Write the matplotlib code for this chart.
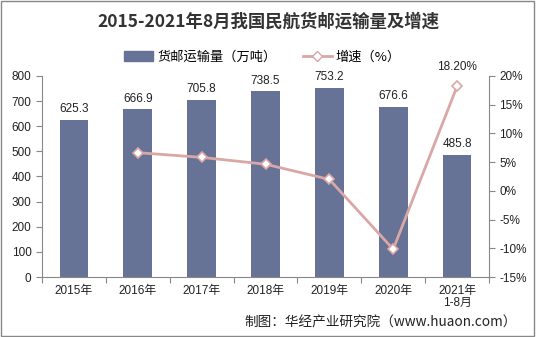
import matplotlib
matplotlib.use("Agg")
import matplotlib.pyplot as plt
from matplotlib.patches import Rectangle
from matplotlib.lines import Line2D

plt.rcParams['font.family'] = ['Liberation Sans', 'Noto Sans CJK SC', 'DejaVu Sans']

categories = ['2015年', '2016年', '2017年', '2018年', '2019年', '2020年', '2021年\n1-8月']
volume = [625.3, 666.9, 705.8, 738.5, 753.2, 676.6, 485.8]
growth = [None, 6.65, 5.83, 4.64, 1.99, -10.17, 18.20]
growth_labels = {6: '18.20%'}
left_ticks = [0, 100, 200, 300, 400, 500, 600, 700, 800]
right_ticks = [-15, -10, -5, 0, 5, 10, 15, 20]

bar_color = '#667396'
line_color = '#D9A7A5'
text_color = '#222222'

fig = plt.figure(figsize=(5.36, 3.37), dpi=100)
fig.patches.append(Rectangle((0.002, 0.003), 0.995, 0.994, transform=fig.transFigure,
                             fill=False, edgecolor='#888888', linewidth=1.0))

ax = fig.add_axes([42/536, 1-277/337, (489-42)/536, (277-76)/337])
x = list(range(len(categories)))
ax.bar(x, volume, width=0.45, color=bar_color, zorder=2)
for xi, v in zip(x, volume):
    ax.text(xi, v + 18, f'{v:.1f}', ha='center', va='bottom', fontsize=8.5, color=text_color)
ax.set_xlim(-0.5, len(categories) - 0.5)
ax.set_ylim(0, 800)
ax.set_yticks(left_ticks)
ax.tick_params(axis='y', labelsize=8.5, colors='#888888', labelcolor=text_color, length=4, direction='out')
ax.set_xticks([i + 0.5 for i in range(-1, len(categories))], minor=False)
ax.set_xticklabels([])
ax.set_xticks(x, minor=True)
ax.set_xticklabels(categories, minor=True, fontsize=8.5, color=text_color, linespacing=1.0)
ax.tick_params(axis='x', which='major', length=4, colors='#888888')
ax.tick_params(axis='x', which='minor', length=0, pad=6)
for s in ['top', 'right']:
    ax.spines[s].set_visible(False)
for s in ['left', 'bottom']:
    ax.spines[s].set_color('#888888')

ax2 = ax.twinx()
gx = [xi for xi, g in zip(x, growth) if g is not None]
gy = [g for g in growth if g is not None]
ax2.plot(gx, gy, color=line_color, linewidth=2, marker='D', markersize=5,
         markerfacecolor='white', markeredgecolor=line_color, markeredgewidth=1.2, zorder=3)
for i, lab in growth_labels.items():
    ax2.text(x[i], growth[i] + 2.3, lab, ha='center', va='bottom', fontsize=8.5, color=text_color)
ax2.set_ylim(-15, 20)
ax2.set_yticks(right_ticks)
ax2.set_yticklabels([f'{t}%' for t in right_ticks])
ax2.tick_params(axis='y', labelsize=8.5, colors='#888888', labelcolor=text_color, length=4, direction='out')
for s in ['top', 'left', 'bottom']:
    ax2.spines[s].set_visible(False)
ax2.spines['right'].set_color('#888888')

fig.text(0.5, 1-22/337, '2015-2021年8月我国民航货邮运输量及增速', ha='center', va='center',
         fontsize=12.5, fontweight='bold', color='#333333', family=['Noto Sans CJK SC', 'DejaVu Sans'])

handles = [Rectangle((0, 0), 1, 1, color=bar_color),
           Line2D([0], [0], color=line_color, linewidth=2, marker='D', markersize=5,
                  markerfacecolor='white', markeredgecolor=line_color)]
fig.legend(handles, ['货邮运输量（万吨）', '增速（%）'], loc='center', bbox_to_anchor=(0.49, 1-57/337),
           ncol=2, frameon=False, handlelength=2.2, columnspacing=2.0, handletextpad=0.3,
           prop={'family': ['Noto Sans CJK SC', 'DejaVu Sans'], 'size': 9.5})

fig.text(0.965, 1-322/337, '制图：华经产业研究院（www.huaon.com）', ha='right', va='center',
         fontsize=9.8, color=text_color, family=['Noto Sans CJK SC', 'DejaVu Sans'])

fig.savefig('out.png', dpi=100)
